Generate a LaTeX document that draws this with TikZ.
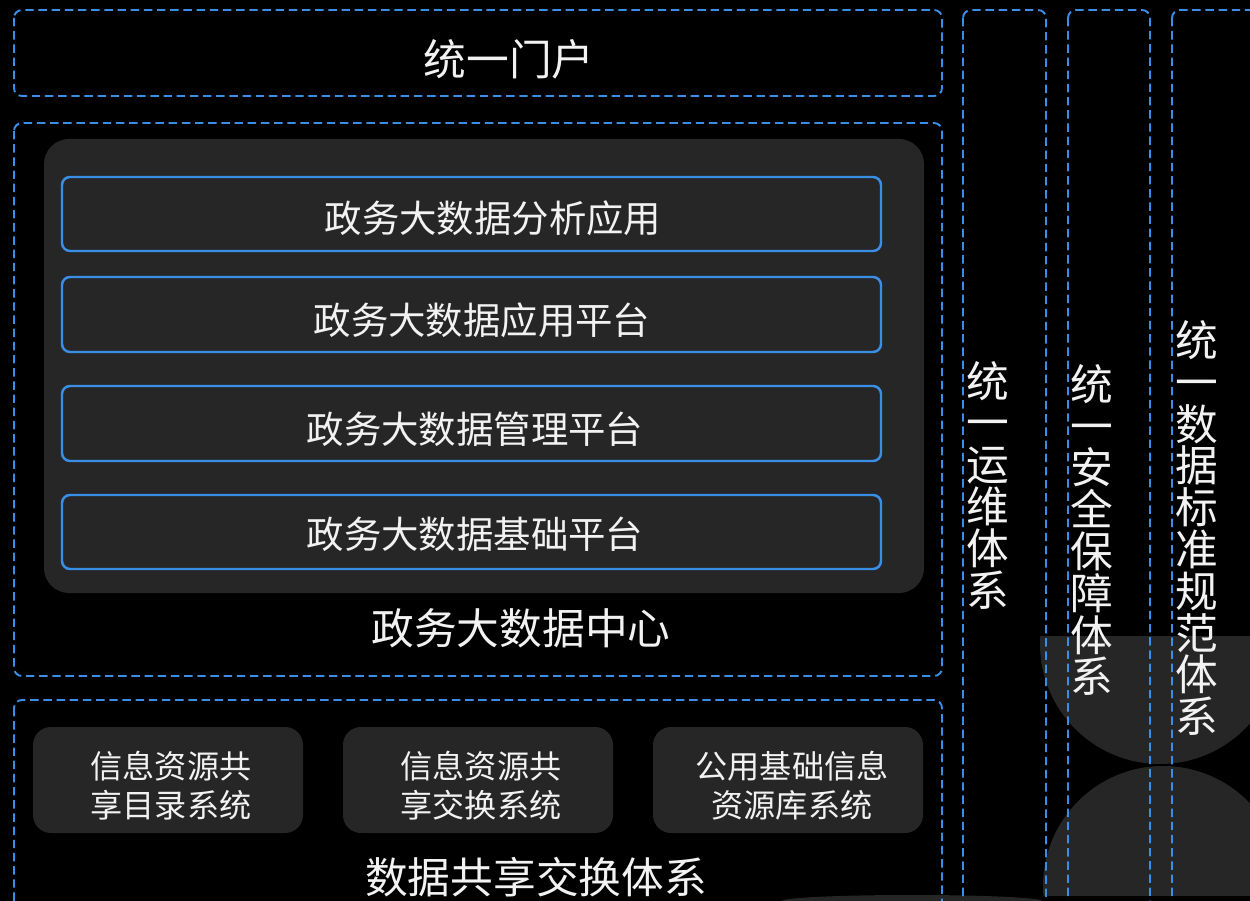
\documentclass[tikz,border=0pt]{standalone}
\usepackage{fontspec}
\setmainfont{Noto Sans CJK SC}
\definecolor{lineblue}{RGB}{58,142,230}
\definecolor{panelgray}{RGB}{38,38,38}
\definecolor{textwhite}{RGB}{242,242,242}

\begin{document}
\begin{tikzpicture}[x=0.02cm, y=-0.02cm,
  zone/.style={draw=lineblue, line width=1.1pt, dash pattern=on 4.8pt off 2.7pt, rounded corners=0.16cm},
  layer/.style={draw=lineblue, line width=1.4pt, fill=panelgray, rounded corners=0.16cm},
  subsys/.style={fill=panelgray, rounded corners=0.36cm},
  bigtext/.style={text=textwhite, inner sep=0pt, font=\fontsize{24.3}{28}\selectfont},
  layertext/.style={text=textwhite, inner sep=0pt, font=\fontsize{21.3}{25}\selectfont},
  systext/.style={text=textwhite, inner sep=0pt, align=center, font=\fontsize{18.3}{22.1}\selectfont},
  vtext/.style={text=textwhite, inner sep=0pt, align=center, font=\fontsize{24.3}{23.8}\selectfont}]

\useasboundingbox (0,0) rectangle (1250,901);
\clip (0,0) rectangle (1250,901);
\fill[black] (0,0) rectangle (1250,901);

\begin{scope}
\clip (0,636) rectangle (1250,895);
\fill[panelgray] (1160,644) circle [radius=120];
\fill[panelgray] (1163,886) circle [radius=120];
\end{scope}
\fill[panelgray] (912,901) ellipse [x radius=130, y radius=6];

\draw[zone] (14,10) rectangle (942,96);
\node[bigtext] (portal) at (509,59) {统一门户};

\draw[zone] (14,123) rectangle (942,676);
\fill[panelgray, rounded corners=0.5cm] (44,139) rectangle (924,593);
\draw[layer] (62,177) rectangle (881,251);
\draw[layer] (62,277) rectangle (881,352);
\draw[layer] (62,386) rectangle (881,461);
\draw[layer] (62,495) rectangle (881,569);
\node[layertext] (analysis) at (493,218) {政务大数据分析应用};
\node[layertext] (appplat) at (482,320) {政务大数据应用平台};
\node[layertext] (mgmtplat) at (475,429) {政务大数据管理平台};
\node[layertext] (baseplat) at (475,534) {政务大数据基础平台};
\node[bigtext] (center) at (521,628) {政务大数据中心};

\draw[zone] (14,700) rectangle (942,940);
\fill[subsys] (33,727) rectangle (303,833);
\fill[subsys] (343,727) rectangle (613,833);
\fill[subsys] (653,727) rectangle (923,833);
\node[systext] (catalog) at (171,786) {信息资源共\\享目录系统};
\node[systext] (exchange) at (481,786) {信息资源共\\享交换系统};
\node[systext] (basedb) at (792,786) {公用基础信息\\资源库系统};
\node[bigtext] (share) at (536,877) {数据共享交换体系};

\draw[zone] (963,10) rectangle (1046,940);
\draw[zone] (1068,10) rectangle (1150,940);
\draw[zone] (1172,10) rectangle (1300,940);
\node[vtext] (ops) at (988,485) {统\\一\\运\\维\\体\\系};
\node[vtext] (sec) at (1092,530) {统\\一\\安\\全\\保\\障\\体\\系};
\node[vtext] (std) at (1197,528) {统\\一\\数\\据\\标\\准\\规\\范\\体\\系};

\end{tikzpicture}
\end{document}
